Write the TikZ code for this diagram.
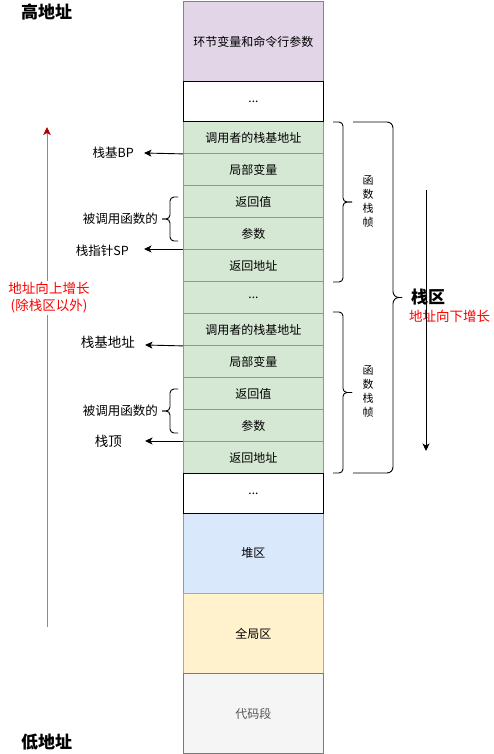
\documentclass[tikz,border=0pt]{standalone}
\usepackage{fontspec}
\setmainfont{Noto Sans CJK SC}
\usetikzlibrary{arrows.meta}
\definecolor{purpF}{HTML}{E1D5E7}
\definecolor{purpD}{HTML}{9673A6}
\definecolor{greenF}{HTML}{D5E8D4}
\definecolor{greenD}{HTML}{8A9E86}
\definecolor{blueF}{HTML}{DAE8FC}
\definecolor{blueD}{HTML}{8A98AA}
\definecolor{yelF}{HTML}{FFF2CC}
\definecolor{yelD}{HTML}{B0AA98}
\definecolor{grayF}{HTML}{F5F5F5}
\definecolor{grayD}{HTML}{7A7A7A}
\definecolor{grayT}{HTML}{555555}
\definecolor{redT}{HTML}{FF0000}
\definecolor{redA}{HTML}{B20000}
\definecolor{redL}{HTML}{DD6A6A}
\tikzset{
  cell/.style={draw, line width=0.9pt, anchor=north west, minimum width=140pt, inner sep=0pt, font=\fontsize{12}{14}\selectfont},
  lbl/.style={inner sep=0pt, font=\fontsize{12.5}{15}\selectfont},
  arr/.style={line width=0.9pt, -{Stealth[length=7.5pt,width=7pt,inset=2pt]}},
  redarr/.style={line width=0.9pt, draw=redL, -{Stealth[length=8pt,width=7.5pt,inset=2pt,color=redA]}},
  brace/.style={line width=0.9pt, rounded corners=4pt},
  bigbrace/.style={line width=0.9pt, rounded corners=6pt},
  vtxt/.style={inner sep=0pt, align=center, font=\fontsize{11}{14.3}\selectfont},
  title/.style={inner sep=0pt, anchor=west, font=\fontsize{17}{20}\selectfont\bfseries},
  redtxt/.style={inner sep=0pt, text=redT, font=\fontsize{13.5}{17}\selectfont}
}
\begin{document}
\begin{tikzpicture}[x=1pt,y=-1pt]
\useasboundingbox (0,0) rectangle (493,754);
% column
\node[cell, fill=purpF, draw=purpD, minimum height=80pt] (env) at (183,1) {环节变量和命令行参数};
\node[cell, fill=greenF, draw=greenD, minimum height=32pt] (a1) at (183,121) {调用者的栈基地址};
\node[cell, fill=greenF, draw=greenD, minimum height=32pt] (a2) at (183,153) {局部变量};
\node[cell, fill=greenF, draw=greenD, minimum height=32pt] (a3) at (183,185) {返回值};
\node[cell, fill=greenF, draw=greenD, minimum height=32pt] (a4) at (183,217) {参数};
\node[cell, fill=greenF, draw=greenD, minimum height=32pt] (a5) at (183,249) {返回地址};
\node[cell, fill=greenF, draw=greenD, minimum height=32pt] (gd) at (183,281) {...};
\node[cell, fill=greenF, draw=greenD, minimum height=32pt] (b1) at (183,313) {调用者的栈基地址};
\node[cell, fill=greenF, draw=greenD, minimum height=32pt] (b2) at (183,345) {局部变量};
\node[cell, fill=greenF, draw=greenD, minimum height=32pt] (b3) at (183,377) {返回值};
\node[cell, fill=greenF, draw=greenD, minimum height=32pt] (b4) at (183,409) {参数};
\node[cell, fill=greenF, draw=greenD, minimum height=32pt] (b5) at (183,441) {返回地址};
\node[cell, fill=blueF, draw=blueD, minimum height=80pt] (heap) at (183,513) {堆区};
\node[cell, fill=yelF, draw=yelD, minimum height=80pt] (glob) at (183,593) {全局区};
\node[cell, fill=grayF, draw=grayD, text=grayT, minimum height=80pt] (code) at (183,673) {代码段};
\node[cell, fill=white, draw=black, minimum height=40pt] (d1) at (183,81) {...};
\node[cell, fill=white, draw=black, minimum height=40pt] (d2) at (183,473) {...};
% left arrows and labels
\coordinate (bpT) at (144,153);
\draw[arr] (a1.south west) -- (bpT);
\node[lbl, anchor=east] (bp) at (134,153) {栈基BP};
\coordinate (spT) at (144,249);
\draw[arr] (a5.north west) -- (spT);
\node[lbl, anchor=east] (sp) at (129,251) {栈指针SP};
\coordinate (bbT) at (145,345);
\draw[arr] (b1.south west) -- (bbT);
\node[lbl, anchor=east, font=\fontsize{13.5}{15}\selectfont] (bb) at (135,342) {栈基地址};
\coordinate (topT) at (145,441);
\draw[arr] (b5.north west) -- (topT);
\node[lbl, anchor=east, font=\fontsize{13.5}{15}\selectfont] (stop) at (122,441) {栈顶};
% left braces
\draw[brace] (178,197) -- (170,197) -- (170,219) -- (162,219);
\draw[brace] (178,241) -- (170,241) -- (170,219) -- (162,219);
\node[lbl, anchor=east] (callee1) at (158,219) {被调用函数的};
\draw[brace] (178,389) -- (170,389) -- (170,411) -- (162,411);
\draw[brace] (178,433) -- (170,433) -- (170,411) -- (162,411);
\node[lbl, anchor=east] (callee2) at (158,411) {被调用函数的};
% right braces
\draw[brace] (333,122) -- (343,122) -- (343,202) -- (352,202);
\draw[brace] (333,282) -- (343,282) -- (343,202) -- (352,202);
\node[vtxt] (fr1) at (368,201.5) {函\\数\\栈\\帧};
\draw[brace] (333,312) -- (343,312) -- (343,392.5) -- (352,392.5);
\draw[brace] (333,473) -- (343,473) -- (343,392.5) -- (352,392.5);
\node[vtxt] (fr2) at (368,391.5) {函\\数\\栈\\帧};
\draw[bigbrace] (353,122) -- (393,122) -- (393,297.5) -- (402,297.5);
\draw[bigbrace] (353,473) -- (393,473) -- (393,297.5) -- (402,297.5);
\node[title] (stack) at (411,297) {栈区};
\node[redtxt, anchor=west] (down) at (409,316) {地址向下增长};
\coordinate (dTop) at (426,190);
\coordinate (dBot) at (426,451);
\draw[arr] (dTop) -- (dBot);
% red up arrow
\coordinate (rBot) at (47,627);
\coordinate (rTop) at (47,127);
\draw[redarr] (rBot) -- (rTop);
\node[redtxt, fill=white, align=center, inner sep=1pt] (up) at (49,298) {地址向上增长\\(除栈区以外)};
% titles
\node[title] (hi) at (21,12) {高地址};
\node[title] (lo) at (21,742) {低地址};
\end{tikzpicture}
\end{document}
